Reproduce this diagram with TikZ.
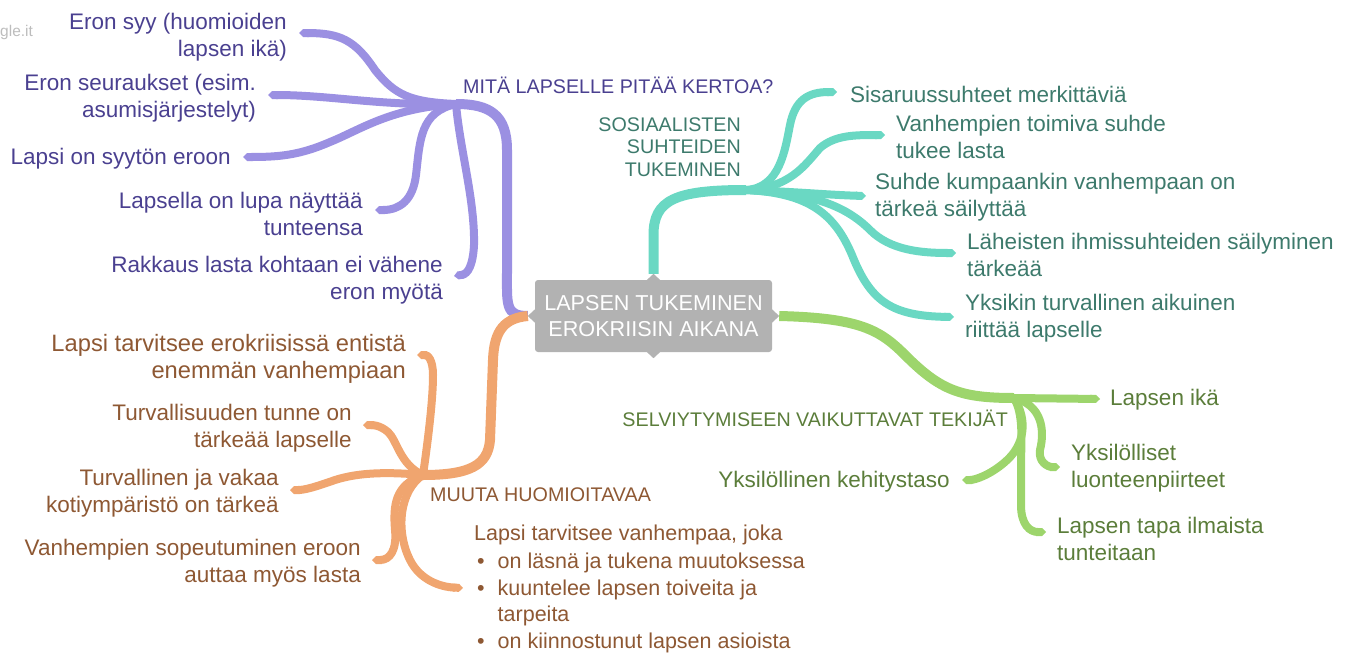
\documentclass[tikz,border=0pt]{standalone}
\usepackage{fontspec}
\setmainfont{Liberation Sans}
\usetikzlibrary{arrows.meta}
\definecolor{purB}{HTML}{9B90E2}
\definecolor{purT}{HTML}{4A4090}
\definecolor{tealB}{HTML}{6AD8C3}
\definecolor{tealT}{HTML}{3D7A6C}
\definecolor{greB}{HTML}{9DD56C}
\definecolor{greT}{HTML}{5B7D3A}
\definecolor{oraB}{HTML}{F0A56F}
\definecolor{oraT}{HTML}{8E5833}
\definecolor{boxgray}{HTML}{B2B2B2}
\definecolor{wm}{HTML}{BDBDBD}
\begin{document}
\begin{tikzpicture}[x=1pt,y=-1pt,
  txt/.style={inner sep=0pt, yshift=-2pt, font=\fontsize{22.5}{27}\selectfont},
  hdr/.style={inner sep=0pt, font=\fontsize{19.7}{22.5}\selectfont},
  br/.style={line width=8pt, -{Triangle Cap[]}},
  mainbr/.style={line width=10pt},
  notch/.style={fill=boxgray}]
\useasboundingbox (0,0) rectangle (1352,653);

% watermark
\node[inner sep=0pt, text=wm, font=\fontsize{15.5}{18}\selectfont, anchor=west] (wmk) at (0,32) {gle.it};

% centre box
\node[fill=boxgray, rounded corners=3pt, minimum width=237pt, minimum height=72pt,
      text=white, font=\fontsize{21.6}{26}\selectfont, align=center, inner sep=0pt] (C) at (653.5,316)
      {LAPSEN TUKEMINEN\\EROKRIISIN AIKANA};
\path (C.west) ++(-7,0) coordinate (Cl);
\path (C.east) ++(7,0) coordinate (Cr);
\path (C.north) ++(0,-6) coordinate (Ct);

% hubs
\coordinate (P) at (456,104);
\coordinate (T) at (746,190);
\coordinate (G) at (1014,398);
\coordinate (O) at (423,475);

% branch ends
\coordinate (p1) at (299,33);
\coordinate (p2) at (268,95);
\coordinate (p3) at (243,157);
\coordinate (p4) at (375,210);
\coordinate (p5) at (454,276);
\coordinate (t1) at (837,92);
\coordinate (t2) at (885,135);
\coordinate (t3) at (866,196);
\coordinate (t4) at (956,253);
\coordinate (t5) at (954,317);
\coordinate (g1) at (1100,399);
\coordinate (g2) at (1060,467);
\coordinate (g3) at (962,480);
\coordinate (g4) at (1046,532);
\coordinate (o1) at (417,355);
\coordinate (o2) at (363,425);
\coordinate (o3) at (290,490);
\coordinate (o4) at (372,560);
\coordinate (o5) at (463,588);

% main branches
\draw[mainbr,purB] (Cl) .. controls (505,316) and (507,305) .. (507,270) -- (507,150) .. controls (507,115) and (490,104) .. (P);
\draw[mainbr,oraB] (Cl) .. controls (505,318) and (494,330) .. (493,360) -- (490,440) .. controls (488,465) and (470,475) .. (O);
\draw[mainbr,tealB] (Ct) -- (653.5,235) .. controls (653.5,200) and (675,190) .. (T);
\draw[mainbr,greB] (Cr) .. controls (860,318) and (880,330) .. (905,355) .. controls (940,390) and (960,398) .. (G);

% notches of the centre box
\fill[notch] (C.north) ++(-7,0.5) -- ++(7,-6.5) -- ++(7,6.5) -- cycle;
\fill[notch] (C.south) ++(-7,-0.5) -- ++(7,6.5) -- ++(7,-6.5) -- cycle;
\fill[notch] (C.west) ++(0.5,-7) -- ++(-7.5,7) -- ++(7.5,7) -- cycle;
\fill[notch] (C.east) ++(-0.5,-7) -- ++(7.5,7) -- ++(-7.5,7) -- cycle;

% purple sub-branches
\draw[br,purB] (P) .. controls (410,102) and (395,95) .. (375,70) .. controls (355,40) and (340,33) .. (p1);
\draw[br,purB] (P) .. controls (380,106) and (330,95) .. (p2);
\draw[br,purB] (P) .. controls (390,108) and (360,130) .. (330,142) .. controls (300,155) and (280,157) .. (p3);
\draw[br,purB] (P) .. controls (420,112) and (420,140) .. (416,175) .. controls (413,200) and (400,210) .. (p4);
\draw[br,purB] (P) .. controls (460,150) and (475,200) .. (474,245) .. controls (473,265) and (468,274) .. (p5);

% teal sub-branches
\draw[br,tealB] (T) .. controls (780,188) and (785,150) .. (790,125) .. controls (795,100) and (808,92) .. (t1);
\draw[br,tealB] (T) .. controls (790,188) and (805,165) .. (820,148) .. controls (835,135) and (855,135) .. (t2);
\draw[br,tealB] (T) .. controls (800,192) and (830,195) .. (t3);
\draw[br,tealB] (T) .. controls (800,193) and (840,200) .. (870,230) .. controls (890,250) and (920,253) .. (t4);
\draw[br,tealB] (T) .. controls (810,193) and (835,215) .. (852,255) .. controls (870,300) and (890,316) .. (t5);

% green sub-branches
\draw[br,greB] (G) -- (g1);
\draw[br,greB] (G) .. controls (1042,405) and (1045,430) .. (1040,450) .. controls (1038,462) and (1048,467) .. (g2);
\draw[br,greB] (G) .. controls (1028,420) and (1025,445) .. (1005,462) .. controls (990,475) and (975,480) .. (g3);
\draw[br,greB] (G) .. controls (1024,415) and (1021,440) .. (1021,470) -- (1021,505) .. controls (1021,525) and (1030,532) .. (g4);

% orange sub-branches
\draw[br,oraB] (O) .. controls (428,440) and (433,400) .. (433,375) .. controls (433,360) and (428,355) .. (o1);
\draw[br,oraB] (O) .. controls (400,465) and (397,440) .. (388,432) .. controls (380,425) and (372,425) .. (o2);
\draw[br,oraB] (O) .. controls (390,472) and (360,472) .. (335,480) .. controls (315,487) and (305,490) .. (o3);
\draw[br,oraB] (O) .. controls (395,485) and (393,505) .. (395,530) .. controls (397,550) and (390,560) .. (o4);
\draw[br,oraB] (O) .. controls (400,490) and (395,530) .. (410,560) .. controls (420,580) and (440,587) .. (o5);

% purple texts
\node[hdr,text=purT,anchor=west] (ph) at (463,85) {MITÄ LAPSELLE PITÄÄ KERTOA?};
\node[txt,text=purT,anchor=east,align=right] (p1t) at (287,35) {Eron syy (huomioiden\\lapsen ikä)};
\node[txt,text=purT,anchor=east,align=right] (p2t) at (256,96) {Eron seuraukset (esim.\\asumisjärjestelyt)};
\node[txt,text=purT,anchor=east] (p3t) at (231,157) {Lapsi on syytön eroon};
\node[txt,text=purT,anchor=east,align=right] (p4t) at (363,212) {Lapsella on lupa näyttää\\tunteensa};
\node[txt,text=purT,anchor=east,align=right] (p5t) at (443,278) {Rakkaus lasta kohtaan ei vähene\\eron myötä};

% teal texts
\node[hdr,text=tealT,anchor=east,align=right] (th) at (741,147) {SOSIAALISTEN\\SUHTEIDEN\\TUKEMINEN};
\node[txt,text=tealT,anchor=west] (t1t) at (850,92) {Sisaruussuhteet merkittäviä};
\node[txt,text=tealT,anchor=west,align=left] (t2t) at (896,135) {Vanhempien toimiva suhde\\tukee lasta};
\node[txt,text=tealT,anchor=west,align=left] (t3t) at (875,195) {Suhde kumpaankin vanhempaan on\\tärkeä säilyttää};
\node[txt,text=tealT,anchor=west,align=left] (t4t) at (967,253) {Läheisten ihmissuhteiden säilyminen\\tärkeää};
\node[txt,text=tealT,anchor=west,align=left] (t5t) at (965,316) {Yksikin turvallinen aikuinen\\riittää lapselle};

% green texts
\node[hdr,text=greT,anchor=east] (gh) at (1008,418) {SELVIYTYMISEEN VAIKUTTAVAT TEKIJÄT};
\node[txt,text=greT,anchor=west] (g1t) at (1110,398) {Lapsen ikä};
\node[txt,text=greT,anchor=west,align=left] (g2t) at (1071,466) {Yksilölliset\\luonteenpiirteet};
\node[txt,text=greT,anchor=east] (g3t) at (950,480) {Yksilöllinen kehitystaso};
\node[txt,text=greT,anchor=west,align=left] (g4t) at (1057,537) {Lapsen tapa ilmaista\\tunteitaan};

% orange texts
\node[hdr,text=oraT,anchor=west] (oh) at (430,495) {MUUTA HUOMIOITAVAA};
\node[txt,text=oraT,anchor=east,align=right,font=\fontsize{23.7}{27}\selectfont] (o1t) at (406,357) {Lapsi tarvitsee erokriisissä entistä\\enemmän vanhempiaan};
\node[txt,text=oraT,anchor=east,align=right] (o2t) at (352,426) {Turvallisuuden tunne on\\tärkeää lapselle};
\node[txt,text=oraT,anchor=east,align=right] (o3t) at (279,491) {Turvallinen ja vakaa\\kotiympäristö on tärkeä};
\node[txt,text=oraT,anchor=east,align=right] (o4t) at (361,561) {Vanhempien sopeutuminen eroon\\auttaa myös lasta};
\node[txt,text=oraT,anchor=north west,font=\fontsize{21.5}{26.5}\selectfont] (o5t) at (474,520) {%
  \begin{tabular}{@{}l@{}l@{}}
  \multicolumn{2}{@{}l@{}}{Lapsi tarvitsee vanhempaa, joka}\\[1.5pt]
  \hspace{3pt}\textbullet\hspace{13pt} & on läsnä ja tukena muutoksessa\\
  \hspace{3pt}\textbullet\hspace{13pt} & kuuntelee lapsen toiveita ja\\
   & tarpeita\\
  \hspace{3pt}\textbullet\hspace{13pt} & on kiinnostunut lapsen asioista
  \end{tabular}};
\end{tikzpicture}
\end{document}
